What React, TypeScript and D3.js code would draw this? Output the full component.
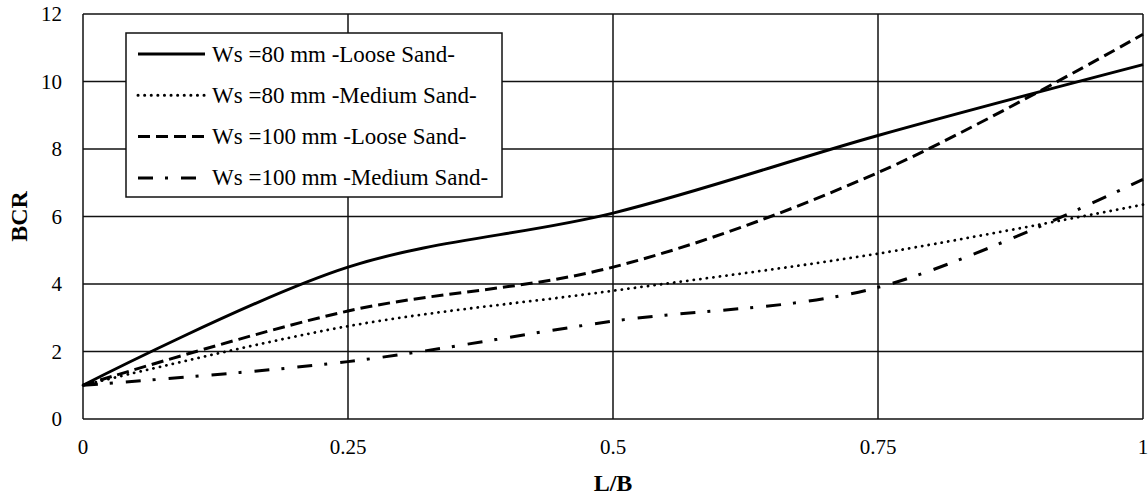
import React, { useEffect, useRef } from "react";
import * as d3 from "d3";

const xValues = [0, 0.25, 0.5, 0.75, 1];
const loose80 = [1, 4.5, 6.1, 8.4, 10.5];
const medium80 = [1, 2.75, 3.8, 4.9, 6.35];
const loose100 = [1, 3.2, 4.5, 7.3, 11.4];
const medium100 = [1, 1.7, 2.9, 3.9, 7.1];
const seriesNames = [
  "Ws =80 mm -Loose Sand-",
  "Ws =80 mm -Medium Sand-",
  "Ws =100 mm -Loose Sand-",
  "Ws =100 mm -Medium Sand-",
];
const xTicks = [0, 0.25, 0.5, 0.75, 1];
const yTicks = [0, 2, 4, 6, 8, 10, 12];

const dashes = [null, "0.1 6.5", "12 6", "15 12 3 13"];
const caps = ["butt", "round", "butt", "butt"];

const App = () => {
  const svgRef = useRef<SVGSVGElement>(null);

  useEffect(() => {
    const W = 1148;
    const H = 497;
    const margin = { top: 14, right: 5, bottom: 78, left: 83 };
    const width = W - margin.left - margin.right;
    const height = H - margin.top - margin.bottom;

    const root = d3.select(svgRef.current);
    root.selectAll("*").remove();
    root.attr("width", W).attr("height", H);

    const svg = root
      .append("g")
      .attr("transform", `translate(${margin.left},${margin.top})`);

    const x = d3.scaleLinear().domain([0, 1]).range([0, width]);
    const y = d3.scaleLinear().domain([0, 12]).range([height, 0]);

    const font = "'Liberation Serif', 'Times New Roman', serif";

    // grid
    svg
      .selectAll(".hgrid")
      .data(yTicks)
      .enter()
      .append("line")
      .attr("x1", 0)
      .attr("x2", width)
      .attr("y1", (d) => y(d))
      .attr("y2", (d) => y(d))
      .attr("stroke", "#111")
      .attr("stroke-width", 1.5);
    svg
      .selectAll(".vgrid")
      .data(xTicks)
      .enter()
      .append("line")
      .attr("x1", (d) => x(d))
      .attr("x2", (d) => x(d))
      .attr("y1", 0)
      .attr("y2", height)
      .attr("stroke", "#111")
      .attr("stroke-width", 1.5);

    // tick labels
    svg
      .selectAll(".ylab")
      .data(yTicks)
      .enter()
      .append("text")
      .attr("x", -21)
      .attr("y", (d) => y(d))
      .attr("dy", "0.35em")
      .attr("text-anchor", "end")
      .style("font-family", font)
      .style("font-size", "21px")
      .text((d) => d);
    svg
      .selectAll(".xlab")
      .data(xTicks)
      .enter()
      .append("text")
      .attr("x", (d) => x(d))
      .attr("y", height + 35)
      .attr("text-anchor", "middle")
      .style("font-family", font)
      .style("font-size", "21px")
      .text((d) => String(d));

    svg
      .append("text")
      .attr("x", width / 2)
      .attr("y", height + 72)
      .attr("text-anchor", "middle")
      .style("font-family", font)
      .style("font-size", "24px")
      .style("font-weight", "bold")
      .text("L/B");
    svg
      .append("text")
      .attr("transform", `translate(${-56},${height / 2}) rotate(-90)`)
      .attr("text-anchor", "middle")
      .style("font-family", font)
      .style("font-size", "24px")
      .style("font-weight", "bold")
      .text("BCR");

    // lines
    const allSeries = [loose80, medium80, loose100, medium100];
    const line = d3
      .line<number>()
      .x((_, i) => x(xValues[i]))
      .y((d) => y(d))
      .curve(d3.curveCatmullRom.alpha(0.5));

    allSeries.forEach((s, i) => {
      const p = svg
        .append("path")
        .attr("d", line(s))
        .attr("fill", "none")
        .attr("stroke", "#000")
        .attr("stroke-width", i === 1 ? 2.8 : 3)
        .attr("stroke-linecap", caps[i]);
      if (dashes[i]) p.attr("stroke-dasharray", dashes[i]);
    });

    // legend
    const lg = root.append("g").attr("transform", "translate(126,33)");
    lg.append("rect")
      .attr("width", 376)
      .attr("height", 164)
      .attr("fill", "#fff")
      .attr("stroke", "#111")
      .attr("stroke-width", 1.5);
    seriesNames.forEach((name, i) => {
      const cy = 21 + i * 41.3;
      const l = lg
        .append("line")
        .attr("x1", 12)
        .attr("x2", 79)
        .attr("y1", cy)
        .attr("y2", cy)
        .attr("stroke", "#000")
        .attr("stroke-width", 3)
        .attr("stroke-linecap", caps[i]);
      if (dashes[i]) l.attr("stroke-dasharray", dashes[i]);
      lg.append("text")
        .attr("x", 86)
        .attr("y", cy)
        .attr("dy", "0.33em")
        .style("font-family", font)
        .style("font-size", "23px")
        .text(name);
    });
  }, []);

  return <svg ref={svgRef} style={{ position: "absolute", left: 0, top: 0 }}></svg>;
};

export default App;
